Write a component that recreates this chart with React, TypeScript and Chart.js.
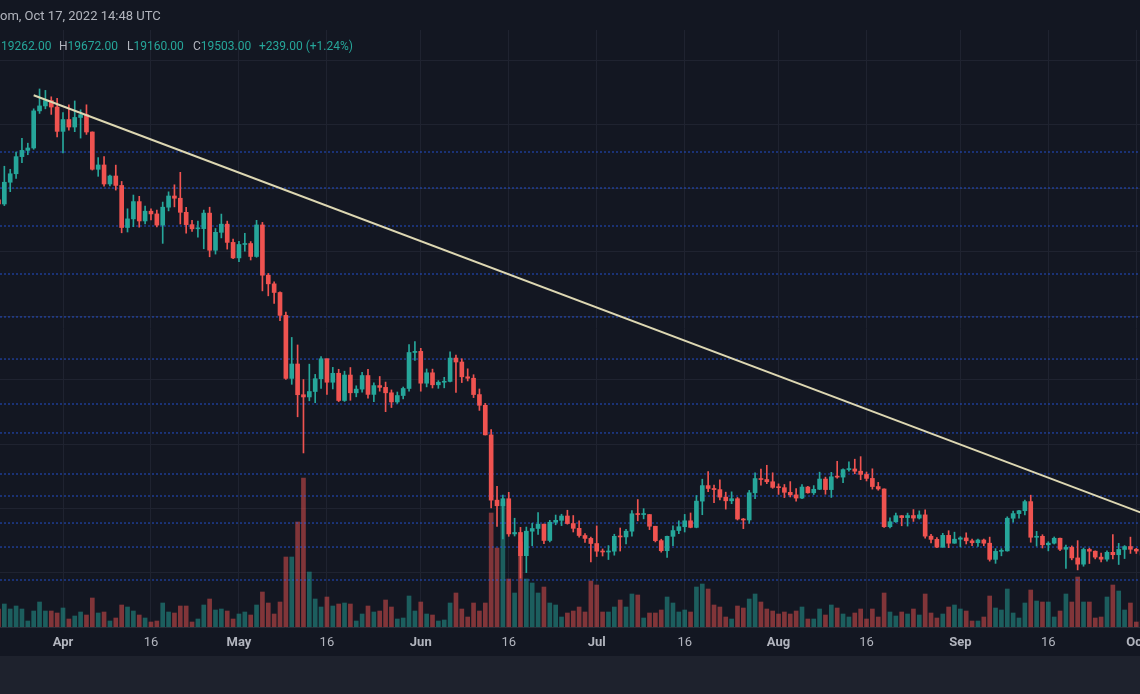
import React, { useEffect, useRef } from 'react';
import { Chart, registerables } from 'chart.js';

Chart.register(...registerables);

// Day index 0 = 2022-04-01. First candle = 2022-03-21 (day -11), one candle per day.
const FIRST_DAY = -11;

const opens = [
  // Mar 21-31
  41260, 41000, 42360, 42890, 43960, 44350, 44500, 46820, 47130, 47465, 47060,
  // Apr
  45540, 46280, 45810, 46410, 46580, 45500, 43170, 43440, 42250, 42750, 42160, 39530, 40070, 41150, 39940,
  40550, 40380, 39680, 40800, 41500, 41360, 40480, 39710, 39450, 39460, 40430, 38110, 39230, 39740, 38600,
  // May
  37630, 38470, 38530, 37720, 39690, 36550, 36010, 35470, 34040, 30100, 31000, 29080, 28940, 29280, 30080,
  31330, 29860, 30420, 28720, 30310, 29200, 29430, 30280, 29100, 29650, 29540, 29200, 28630, 29030, 29470, 31720,
  // Jun
  31790, 29800, 30450, 29700, 29860, 29910, 31370, 31125, 30200, 30110, 29090, 28420, 26570, 22490, 22140,
  22580, 20380, 20470, 19020, 20550, 20720, 20990, 19970, 21110, 21230, 21500, 21030, 20730, 20280, 20100,
  // Jul
  19780, 19300, 19250, 19300, 20230, 20190, 20550, 21640, 21590, 21590, 20860, 19960, 19330, 20230, 20590,
  20830, 21200, 20790, 22430, 23400, 23220, 23150, 22680, 22450, 22580, 21310, 21250, 22950, 23840, 23780, 23640,
  // Aug
  23290, 23270, 22980, 22820, 22620, 23310, 22950, 23170, 23810, 23150, 23950, 23930, 24400, 24440, 24300,
  24100, 23850, 23340, 23190, 20830, 21140, 21520, 21400, 21530, 21370, 21570, 20240, 20040, 19550, 20290, 19800,
  // Sep
  20050, 20130, 19950, 19830, 20000, 19800, 18790, 19290, 19320, 21360, 21650, 21830, 22400, 20170, 20230,
  19700, 19800, 20110, 19420, 19540, 18880, 18490, 19410, 19300, 18930, 18800, 19230, 19080, 19410, 19590,
  // Oct
  19420, 19310,
];

const highs = [
  41540, 43360, 43170, 44250, 45100, 44800, 46950, 48190, 48100, 47700, 47600,
  46720, 47200, 47440, 46890, 47200, 45510, 43900, 43970, 42800, 43430, 42410, 40700, 41560, 41480, 40870,
  40700, 40620, 41120, 41760, 42200, 42980, 40790, 39980, 39930, 40620, 40800, 39470, 40370, 39930, 38800,
  38670, 39170, 38650, 39980, 39850, 36660, 36130, 35510, 34240, 32660, 32190, 30030, 30990, 30350, 31460,
  31330, 30790, 30670, 30550, 30780, 29640, 30480, 30660, 29830, 30220, 29870, 29380, 29250, 29560, 32220, 32400,
  31980, 30690, 30680, 29960, 30170, 31760, 31550, 31330, 30700, 30330, 29440, 28540, 26900, 23360, 22800,
  22980, 21360, 20790, 20810, 21050, 21720, 20990, 21230, 21560, 21610, 21860, 21530, 21200, 20400, 20180,
  20880, 19440, 19650, 20360, 20750, 20660, 21840, 22530, 21960, 21600, 20860, 20050, 20250, 20880, 21200,
  21600, 21690, 22780, 23800, 24280, 23440, 23760, 22990, 23010, 22660, 21350, 23100, 24200, 24440, 24670, 24200,
  23510, 23470, 23650, 23220, 23460, 23350, 23400, 24240, 23930, 24230, 24920, 24450, 24890, 25050, 25210,
  24250, 24450, 23600, 23200, 21380, 21690, 21530, 21680, 21900, 21820, 21880, 20350, 20150, 20420, 20580, 20490,
  20210, 20450, 20050, 20060, 20060, 20180, 19460, 19460, 21450, 21800, 21860, 22490, 22800, 20540, 20330,
  19890, 20190, 20120, 19690, 19630, 19960, 19500, 19490, 19320, 19190, 19320, 20340, 19790, 19650, 20180,
  19480, 19400,
];

const lows = [
  40500, 40900, 41770, 42600, 43580, 44080, 44420, 46660, 46950, 46600, 45200,
  44200, 45620, 45520, 45120, 45350, 43120, 42730, 42110, 42130, 41870, 39200, 39250, 39580, 39550, 39760,
  40010, 39560, 38540, 40570, 40820, 39750, 39180, 39290, 38930, 38200, 37700, 37870, 38880, 38180, 37580,
  37390, 38050, 37500, 37670, 35570, 35260, 34780, 33710, 30030, 29730, 27700, 25440, 28700, 28580, 29480,
  29100, 29440, 28650, 28660, 28730, 28950, 29240, 28860, 28640, 29300, 28020, 28280, 28530, 28820, 29300, 31220,
  29300, 29570, 29500, 29480, 29510, 29880, 29220, 29840, 29940, 28900, 28100, 26560, 22000, 20850, 20070,
  20230, 20250, 17620, 17960, 19640, 20350, 19770, 19880, 20950, 20900, 20990, 20500, 20170, 19850, 18630,
  18970, 19000, 18780, 19050, 19310, 19760, 20240, 21200, 21320, 20650, 19880, 19240, 18910, 19640, 20400,
  20500, 20760, 20760, 21580, 23020, 22340, 22500, 21930, 22270, 21250, 20710, 21040, 22580, 23420, 23520, 23230,
  22850, 22650, 22690, 22430, 22590, 22930, 22840, 23150, 22860, 22660, 23860, 23580, 24300, 24140, 23770,
  23690, 23180, 23110, 20780, 20760, 21100, 20890, 20870, 21160, 21310, 20110, 19810, 19520, 19540, 19520, 19790,
  19570, 19750, 19650, 19600, 19640, 18680, 18540, 19010, 19300, 21110, 21360, 21560, 19860, 19620, 19500,
  19320, 19750, 19340, 18230, 18760, 18130, 18360, 18530, 18820, 18630, 18680, 18820, 18470, 18840, 19160,
  19160, 18920,
];

const closes = [
  41000, 42360, 42890, 43960, 44350, 44500, 46820, 47130, 47465, 47060, 45540,
  46280, 45810, 46410, 46580, 45500, 43170, 43440, 42250, 42750, 42160, 39530, 40070, 41150, 39940, 40550,
  40380, 39680, 40800, 41500, 41360, 40480, 39710, 39450, 39460, 40430, 38110, 39230, 39740, 38600, 37630,
  38470, 38530, 37720, 39690, 36550, 36010, 35470, 34040, 30100, 31000, 29080, 28940, 29280, 30080, 31330,
  29860, 30420, 28720, 30310, 29200, 29430, 30280, 29100, 29650, 29540, 29200, 28630, 29030, 29470, 31720, 31790,
  29800, 30450, 29700, 29860, 29910, 31370, 31125, 30200, 30110, 29090, 28420, 26570, 22490, 22140, 22580,
  20380, 20470, 19020, 20550, 20720, 20990, 19970, 21110, 21230, 21500, 21030, 20730, 20280, 20100, 19780,
  19300, 19250, 19300, 20230, 20190, 20550, 21640, 21590, 21590, 20860, 19960, 19330, 20230, 20590, 20830,
  21200, 20790, 22430, 23400, 23220, 23150, 22680, 22450, 22580, 21310, 21250, 22950, 23840, 23780, 23640, 23290,
  23270, 22980, 22820, 22620, 23310, 22950, 23170, 23810, 23150, 23950, 23930, 24400, 24440, 24300, 24100,
  23850, 23340, 23190, 20830, 21140, 21520, 21400, 21530, 21370, 21570, 20240, 20040, 19550, 20290, 19800, 20050,
  20130, 19950, 19830, 20000, 19800, 18790, 19290, 19320, 21360, 21650, 21830, 22400, 20170, 20230, 19700,
  19800, 20110, 19420, 19540, 18880, 18490, 19410, 19300, 18930, 18800, 19230, 19080, 19410, 19590, 19420,
  19310, 19050,
];

// Volume, relative units
const volumes = [
  18, 23, 18, 21, 18, 6, 16, 25, 16, 16, 14,
  19, 8, 11, 15, 12, 29, 14, 15, 6, 9, 22, 20, 16, 12, 9, 5, 6, 24, 15, 14, 21, 21, 5, 8, 22, 28, 17, 18, 16, 8,
  13, 15, 12, 22, 35, 24, 13, 25, 70, 70, 105, 149, 55, 28, 20, 30, 21, 23, 24, 23, 6, 13, 21, 15, 16, 27, 20, 8, 9, 31, 16,
  25, 13, 12, 6, 7, 24, 34, 18, 10, 24, 16, 24, 114, 79, 125, 48, 34, 85, 48, 44, 34, 40, 24, 22, 10, 14, 16, 20, 15, 46,
  42, 15, 15, 20, 27, 20, 33, 32, 9, 14, 14, 17, 30, 24, 15, 17, 15, 40, 43, 38, 22, 20, 10, 8, 21, 19, 28, 33, 25, 18, 16,
  13, 15, 13, 16, 20, 8, 8, 18, 12, 22, 19, 13, 10, 14, 18, 8, 18, 10, 34, 15, 11, 15, 13, 18, 12, 33, 14, 9, 13, 20, 22,
  18, 16, 6, 6, 10, 31, 19, 17, 38, 14, 9, 24, 37, 26, 25, 25, 10, 16, 33, 25, 50, 25, 25, 9, 10, 30, 42, 36, 17, 24,
  5, 6,
];

const tickDays = [0, 15, 30, 45, 61, 76, 91, 106, 122, 137, 153, 168, 183];
const tickLabels = ['Apr', '16', 'May', '16', 'Jun', '16', 'Jul', '16', 'Aug', '16', 'Sep', '16', 'Oct'];
const priceGrid = [18000, 22000, 26000, 30000, 34000, 38000, 42000, 46000, 50000];

const levelPrices = [44250, 42000, 39625, 36625, 33940, 31310, 28500, 26690, 24125, 22750, 21060, 19560, 17500];

const trendDays = [-5, 184];
const trendPrices = [47800, 21680];

const headerText = 'om, Oct 17, 2022 14:48 UTC';
const legendItems = [
  { key: 'O', value: '19262.00' },
  { key: 'H', value: '19672.00' },
  { key: 'L', value: '19160.00' },
  { key: 'C', value: '19503.00' },
  { key: '', value: '+239.00 (+1.24%)' },
];

const X_MIN = -10.742;
const X_MAX = 183.63;
const Y_MIN = 14562.5;
const Y_MAX = 51875;
const VOL_MAX = 597;

const BG = '#131722';
const GREEN = '#26a69a';
const RED = '#ef5350';
const GREEN_VOL = 'rgba(38,166,154,0.5)';
const RED_VOL = 'rgba(239,83,80,0.5)';
const GRID = '#1f2330';
const TEXT = '#b2b5be';
const FONT = 'Roboto, "Noto Sans", sans-serif';

export default function App() {
  const ref = useRef<HTMLCanvasElement>(null);

  useEffect(() => {
    const canvas = ref.current;
    if (!canvas) return;
    const days = closes.map((_, i) => FIRST_DAY + i);
    const up = closes.map((c, i) => c >= opens[i]);
    const candleColors = up.map((u) => (u ? GREEN : RED));
    const volColors = up.map((u) => (u ? GREEN_VOL : RED_VOL));

    const levelSets: any[] = levelPrices.map((p) => ({
      type: 'line',
      data: [
        { x: X_MIN, y: p },
        { x: X_MAX, y: p },
      ],
      borderColor: 'rgba(41,98,255,0.75)',
      borderWidth: 1,
      borderDash: [2, 2],
      pointRadius: 0,
      fill: false,
      yAxisID: 'y',
      order: 3,
    }));

    const chart = new Chart(canvas, {
      type: 'bar',
      data: {
        datasets: [
          {
            type: 'line',
            data: trendDays.map((d, i) => ({ x: d, y: trendPrices[i] })),
            borderColor: '#ddd7b2',
            borderWidth: 2,
            pointRadius: 0,
            fill: false,
            yAxisID: 'y',
            order: 0,
          } as any,
          {
            type: 'bar',
            data: days.map((d, i) => ({ x: d, y: [opens[i], closes[i]] })),
            backgroundColor: candleColors,
            barThickness: 4,
            minBarLength: 1,
            grouped: false,
            yAxisID: 'y',
            order: 1,
          } as any,
          {
            type: 'bar',
            data: days.map((d, i) => ({ x: d, y: [lows[i], highs[i]] })),
            backgroundColor: candleColors,
            barThickness: 1,
            minBarLength: 1,
            grouped: false,
            yAxisID: 'y',
            order: 2,
          } as any,
          ...levelSets,
          {
            type: 'bar',
            data: days.map((d, i) => ({ x: d, y: volumes[i] })),
            backgroundColor: volColors,
            barThickness: 4,
            grouped: false,
            yAxisID: 'yv',
            order: 4,
          } as any,
        ],
      },
      options: {
        animation: false,
        responsive: false,
        maintainAspectRatio: false,
        layout: { padding: { top: 30, left: 0, right: 0, bottom: 0 } },
        plugins: { legend: { display: false }, tooltip: { enabled: false }, title: { display: false } },
        scales: {
          x: {
            type: 'linear',
            min: X_MIN,
            max: X_MAX,
            offset: false,
            grid: { color: GRID, drawTicks: false, offset: false },
            border: { display: true, color: '#2a2e39' },
            ticks: {
              autoSkip: false,
              maxRotation: 0,
              minRotation: 0,
              padding: 8,
              color: TEXT,
              font: (ctx: any) => {
                const idx = tickDays.indexOf(ctx.tick ? ctx.tick.value : -999);
                const lbl = idx >= 0 ? tickLabels[idx] : '';
                return { family: FONT, size: 13, weight: /^\d/.test(lbl) ? 'normal' : 'bold' };
              },
              callback: (v: any) => {
                const idx = tickDays.indexOf(Number(v));
                return idx >= 0 ? tickLabels[idx] : '';
              },
            },
            afterBuildTicks: (s: any) => {
              s.ticks = tickDays.map((v) => ({ value: v }));
            },
            afterFit: (s: any) => {
              s.height = 29;
              s.paddingLeft = 0;
              s.paddingRight = 0;
            },
          } as any,
          y: {
            type: 'linear',
            position: 'left',
            min: Y_MIN,
            max: Y_MAX,
            grid: { color: GRID, drawTicks: false },
            border: { display: false },
            ticks: { display: false },
            afterBuildTicks: (s: any) => {
              s.ticks = priceGrid.map((v) => ({ value: v }));
            },
            afterFit: (s: any) => {
              s.width = 0;
            },
          } as any,
          yv: {
            type: 'linear',
            position: 'right',
            min: 0,
            max: VOL_MAX,
            display: false,
          } as any,
        },
      },
    });
    return () => chart.destroy();
  }, []);

  // left edge of each legend value (first key "O" is scrolled out of view)
  const legendLefts = [1, 59, 127, 193, 259];

  return (
    <div
      style={{
        position: 'fixed',
        left: 0,
        top: 0,
        width: 1140,
        height: 694,
        background: BG,
        overflow: 'hidden',
        fontFamily: FONT,
      }}
    >
      <canvas
        ref={ref}
        width={1140}
        height={656}
        style={{ position: 'absolute', left: 0, top: 0, width: 1140, height: 656 }}
      />
      <div
        style={{
          position: 'absolute',
          left: 0,
          top: 6,
          fontSize: 13,
          lineHeight: '20px',
          color: TEXT,
          whiteSpace: 'nowrap',
        }}
      >
        {headerText}
      </div>
      {legendItems.map((it, i) => (
        <div
          key={i}
          style={{
            position: 'absolute',
            left: legendLefts[i],
            top: 37,
            fontSize: 12,
            lineHeight: '18px',
            whiteSpace: 'nowrap',
          }}
        >
          {it.key ? (
            <span
              style={
                i === 0
                  ? { color: TEXT, position: 'absolute', right: '100%', marginRight: 4 }
                  : { color: TEXT }
              }
            >
              {it.key}
            </span>
          ) : null}
          <span style={{ color: GREEN }}>{it.value}</span>
        </div>
      ))}
      <div
        style={{
          position: 'absolute',
          left: 0,
          top: 656,
          width: 1140,
          height: 38,
          background: '#1e222d',
        }}
      />
    </div>
  );
}
